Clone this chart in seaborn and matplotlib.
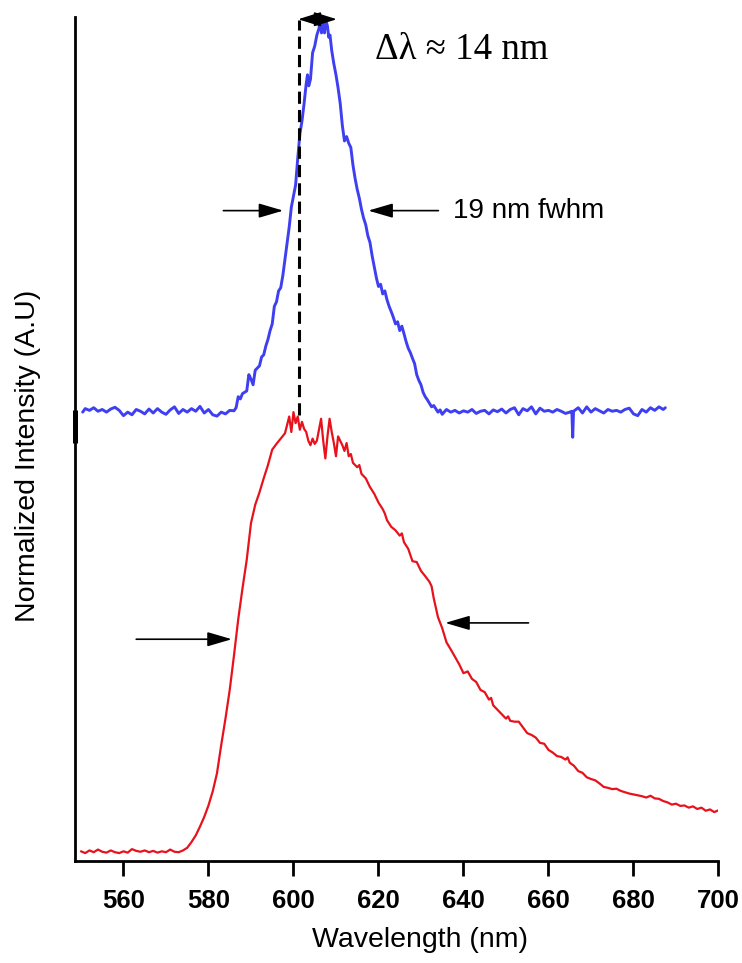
import numpy as np
import matplotlib
matplotlib.use("Agg")
import matplotlib.pyplot as plt
import seaborn as sns

# Lower trace (red): emission spectrum, wavelength in nm and normalized intensity
red_nm = [550, 551, 552, 553, 554, 555, 556, 557, 558, 559,
          560, 561, 562, 563, 564, 565, 566, 567, 568, 569,
          570, 571, 572, 573, 574, 575, 576, 577, 578, 579,
          580, 581, 582, 583, 584, 585, 586, 587, 588, 589,
          590, 591, 592, 593, 594, 595, 596, 597, 598, 599,
          599.5, 600, 600.5, 601, 601.5, 602, 602.5, 603, 603.5, 604,
          604.5, 605, 605.5, 606, 606.5, 607, 607.5, 608, 608.5, 609,
          609.5, 610, 610.5, 611, 611.5, 612, 612.5, 613, 613.5, 614,
          615, 615.5, 616, 617, 618, 619, 620, 621, 621.5, 622,
          623, 624, 625, 625.5, 626, 627, 628, 629, 630, 631,
          632, 632.5, 633, 634, 635, 636, 637, 638, 639, 640,
          641, 642, 643, 644, 645, 646, 646.5, 647, 648, 649,
          650, 650.5, 651, 652, 653, 654, 655, 656, 657, 658,
          659, 660, 661, 662, 663, 664, 664.5, 665, 666, 667,
          668, 669, 670, 671, 672, 673, 674, 675, 676, 677,
          678, 679, 680, 681, 682, 683, 684, 685, 686, 687,
          688, 689, 690, 691, 692, 693, 694, 695, 696, 697,
          698, 699, 700]
red_int = [0.004, 0.000, 0.006, 0.002, 0.008, 0.003, 0.001, 0.006, 0.002, 0.000,
           0.004, 0.001, 0.009, 0.005, 0.003, 0.006, 0.002, 0.005, 0.001, 0.004,
           0.002, 0.008, 0.003, 0.002, 0.006, 0.012, 0.025, 0.040, 0.060, 0.082,
           0.108, 0.140, 0.181, 0.245, 0.305, 0.370, 0.448, 0.530, 0.600, 0.665,
           0.748, 0.790, 0.818, 0.850, 0.880, 0.915, 0.928, 0.940, 0.952, 0.990,
           0.955, 1.000, 0.975, 0.990, 0.960, 0.978, 0.962, 0.955, 0.935, 0.925,
           0.940, 0.928, 0.935, 0.960, 0.985, 0.935, 0.895, 0.945, 0.985, 0.955,
           0.930, 0.900, 0.945, 0.935, 0.925, 0.912, 0.930, 0.900, 0.905, 0.885,
           0.875, 0.880, 0.860, 0.850, 0.830, 0.815, 0.795, 0.780, 0.770, 0.755,
           0.740, 0.732, 0.720, 0.725, 0.705, 0.690, 0.662, 0.660, 0.640, 0.628,
           0.615, 0.605, 0.578, 0.535, 0.510, 0.478, 0.462, 0.445, 0.428, 0.408,
           0.412, 0.395, 0.388, 0.370, 0.365, 0.348, 0.352, 0.335, 0.325, 0.315,
           0.305, 0.310, 0.300, 0.298, 0.298, 0.285, 0.272, 0.268, 0.262, 0.250,
           0.248, 0.234, 0.228, 0.220, 0.218, 0.212, 0.217, 0.205, 0.198, 0.186,
           0.182, 0.172, 0.168, 0.165, 0.158, 0.150, 0.148, 0.145, 0.146, 0.141,
           0.138, 0.135, 0.133, 0.131, 0.129, 0.126, 0.130, 0.124, 0.123, 0.118,
           0.115, 0.110, 0.112, 0.107, 0.108, 0.103, 0.106, 0.100, 0.103, 0.096,
           0.099, 0.093, 0.097]

# Upper trace (blue): narrowed spectrum, drawn with a vertical offset
blue_offset = 1.0
blue_base_left_nm = [550.4, 551, 552, 553, 554, 555, 556, 557, 558, 559,
                     560, 561, 562, 563, 564, 565, 566, 567, 568, 569,
                     570, 571, 572, 573, 574, 575, 576, 577, 578, 579,
                     580, 581, 582, 583, 584, 585, 586]
blue_base_left_int = [0.000, 0.008, 0.004, 0.010, 0.002, 0.006, 0.000, 0.007, 0.011, 0.004,
                      -0.008, 0.000, -0.006, 0.006, 0.002, -0.004, 0.007, -0.002, 0.008, 0.000,
                      -0.005, 0.005, 0.012, -0.003, 0.006, 0.000, 0.008, 0.002, 0.013, -0.002,
                      0.006, -0.006, -0.009, 0.000, -0.004, 0.004, 0.003]
blue_peak_nm = [586.5, 587, 587.5, 588, 589, 589.5, 590, 590.5, 591, 592,
                592.5, 593, 593.5, 594, 594.5, 595, 595.5, 596, 596.5, 597,
                597.5, 598, 598.5, 599, 599.5, 600, 600.5, 601, 601.5, 602,
                602.5, 603, 603.3, 603.6, 604, 604.5, 605, 605.5, 606, 606.3,
                606.6, 607, 607.3, 607.6, 608, 608.3, 608.6, 609, 609.5, 610,
                610.5, 611, 611.5, 612, 612.5, 613, 613.5, 614, 614.5, 615,
                615.5, 616, 616.5, 617, 617.5, 618, 618.5, 619, 619.5, 620,
                620.5, 621, 621.5, 622, 622.5, 623, 623.5, 624, 624.5, 625,
                625.5, 626, 626.5, 627, 627.5, 628, 628.5, 629, 629.5, 630,
                630.5, 631, 631.5, 632, 632.5, 633, 634, 634.5, 635, 636]
blue_peak_int = [0.010, 0.035, 0.030, 0.042, 0.048, 0.085, 0.075, 0.062, 0.095, 0.105,
                 0.125, 0.130, 0.150, 0.165, 0.185, 0.200, 0.240, 0.250, 0.275, 0.282,
                 0.310, 0.347, 0.385, 0.420, 0.465, 0.490, 0.515, 0.575, 0.630, 0.660,
                 0.700, 0.745, 0.765, 0.740, 0.755, 0.815, 0.830, 0.855, 0.870, 0.890,
                 0.860, 0.885, 0.860, 0.890, 0.875, 0.850, 0.855, 0.820, 0.790, 0.765,
                 0.735, 0.700, 0.650, 0.615, 0.625, 0.610, 0.600, 0.560, 0.530, 0.505,
                 0.485, 0.460, 0.440, 0.425, 0.400, 0.385, 0.355, 0.330, 0.305, 0.285,
                 0.290, 0.268, 0.275, 0.255, 0.240, 0.228, 0.215, 0.200, 0.205, 0.185,
                 0.195, 0.178, 0.160, 0.145, 0.135, 0.122, 0.110, 0.085, 0.072, 0.062,
                 0.045, 0.035, 0.028, 0.020, 0.012, 0.015, 0.000, 0.005, -0.005, 0.006]
blue_base_right_nm = [637, 638, 639, 640, 641, 642, 643, 644, 645, 646,
                      647, 648, 649, 650, 651, 652, 653, 654, 655, 656,
                      657, 658, 659, 660, 661, 662, 663, 664, 665, 665.5,
                      665.7, 665.9, 667, 668, 669, 670, 671, 672, 673, 674,
                      675, 676, 677, 678, 679, 680, 681, 682, 683, 684,
                      685, 686, 687, 687.5]
blue_base_right_int = [0.000, 0.004, -0.002, 0.003, 0.000, 0.006, -0.003, 0.002, 0.004, -0.004,
                       0.005, 0.001, 0.007, -0.002, 0.006, 0.010, -0.006, 0.008, 0.003, 0.012,
                       -0.004, 0.009, 0.002, 0.004, 0.000, 0.006, 0.002, -0.003, 0.000, 0.002,
                       -0.057, 0.002, 0.010, -0.002, 0.012, 0.000, 0.008, 0.003, -0.002, 0.006,
                       0.002, 0.004, 0.000, 0.006, 0.009, -0.004, -0.008, 0.006, 0.000, 0.010,
                       0.004, 0.012, 0.006, 0.010]

# Annotation values
red_peak_pos = 601.4
blue_peak_pos = 610.2
blue_half = 1.457
blue_fwhm_left = (583.5, 597.6)
blue_fwhm_right = (634.1, 617.6)
red_fwhm_left = (563.0, 585.5, 0.485)
red_fwhm_right = (655.3, 635.7, 0.522)
x_ticks = [560, 580, 600, 620, 640, 660, 680, 700]

blue_nm = blue_base_left_nm + blue_peak_nm + blue_base_right_nm
blue_int = np.array(blue_base_left_int + blue_peak_int + blue_base_right_int) + blue_offset

sns.set_style("ticks")
plt.rcParams["font.family"] = ["Liberation Sans", "DejaVu Sans"]
plt.rcParams["text.color"] = "black"
plt.rcParams["axes.labelcolor"] = "black"
plt.rcParams["xtick.color"] = "black"
plt.rcParams["xtick.labelcolor"] = "black"

fig = plt.figure(figsize=(7.42, 9.63), dpi=100)
ax = fig.add_axes([0.1011, 0.1059, 0.8672, 0.8764])

sns.lineplot(x=red_nm, y=red_int, ax=ax, color="#e8121c", lw=1.6, estimator=None)
sns.lineplot(x=blue_nm, y=blue_int, ax=ax, color="#3f3ff2", lw=2.1, estimator=None)

ax.set_xlim(548.6, 700)
ax.set_ylim(-0.018, 1.896)

# axes styling
for side in ("top", "right"):
    ax.spines[side].set_visible(False)
for side in ("left", "bottom"):
    ax.spines[side].set_linewidth(2.0)
    ax.spines[side].set_color("black")
ax.set_yticks([])
ax.set_xticks(x_ticks)
ax.set_xticklabels([str(t) for t in x_ticks], fontsize=18.5, fontweight="bold",
                   color="black")
ax.tick_params(axis="x", length=11, width=2.0, pad=9, color="black")

# heavier stretch of the vertical axis near the offset baseline
ax.plot([548.6, 548.6], [0.930, 1.005], color="black", lw=3.6, clip_on=False,
        solid_capstyle="butt")

ax.set_xlabel("Wavelength (nm)", fontsize=20.5, color="black")
ax.set_ylabel("Normalized Intensity (A.U)", fontsize=20.5, color="black")
ax.xaxis.label.set_va("center")
ax.yaxis.label.set_va("center")
ax.xaxis.set_label_coords(0.536, -0.094)
ax.yaxis.set_label_coords(-0.073, 0.48)

# dashed marker at the red peak
ax.plot([red_peak_pos, red_peak_pos], [0.993, 1.89], color="black", lw=2.2,
        dashes=(4, 2))

arrow_kw = dict(arrowstyle="-|>,head_length=0.75,head_width=0.22", color="black",
                lw=1.2, mutation_scale=20, shrinkA=0, shrinkB=0)
ax.annotate("", xy=(blue_fwhm_left[1], blue_half), xytext=(blue_fwhm_left[0], blue_half),
            arrowprops=arrow_kw)
ax.annotate("", xy=(blue_fwhm_right[1], blue_half), xytext=(blue_fwhm_right[0], blue_half),
            arrowprops=arrow_kw)
ax.annotate("", xy=(red_fwhm_left[1], red_fwhm_left[2]),
            xytext=(red_fwhm_left[0], red_fwhm_left[2]), arrowprops=arrow_kw)
ax.annotate("", xy=(red_fwhm_right[1], red_fwhm_right[2]),
            xytext=(red_fwhm_right[0], red_fwhm_right[2]), arrowprops=arrow_kw)

# double-headed arrow for the peak shift
ax.annotate("", xy=(blue_peak_pos, 1.891), xytext=(red_peak_pos - 0.3, 1.891),
            arrowprops=dict(arrowstyle="<|-|>,head_length=0.7,head_width=0.22",
                            color="black", lw=1.2, mutation_scale=20,
                            shrinkA=0, shrinkB=0), annotation_clip=False)

ax.text(637.6, blue_half, "19 nm fwhm", fontsize=20, va="center", ha="left",
        color="black")
ax.text(619.2, 1.821, "\u0394\u03bb \u2248 14 nm", fontsize=26.5, va="center", ha="left",
        color="black", family=["Liberation Serif", "DejaVu Serif"])

fig.savefig("out.png", dpi=100)
